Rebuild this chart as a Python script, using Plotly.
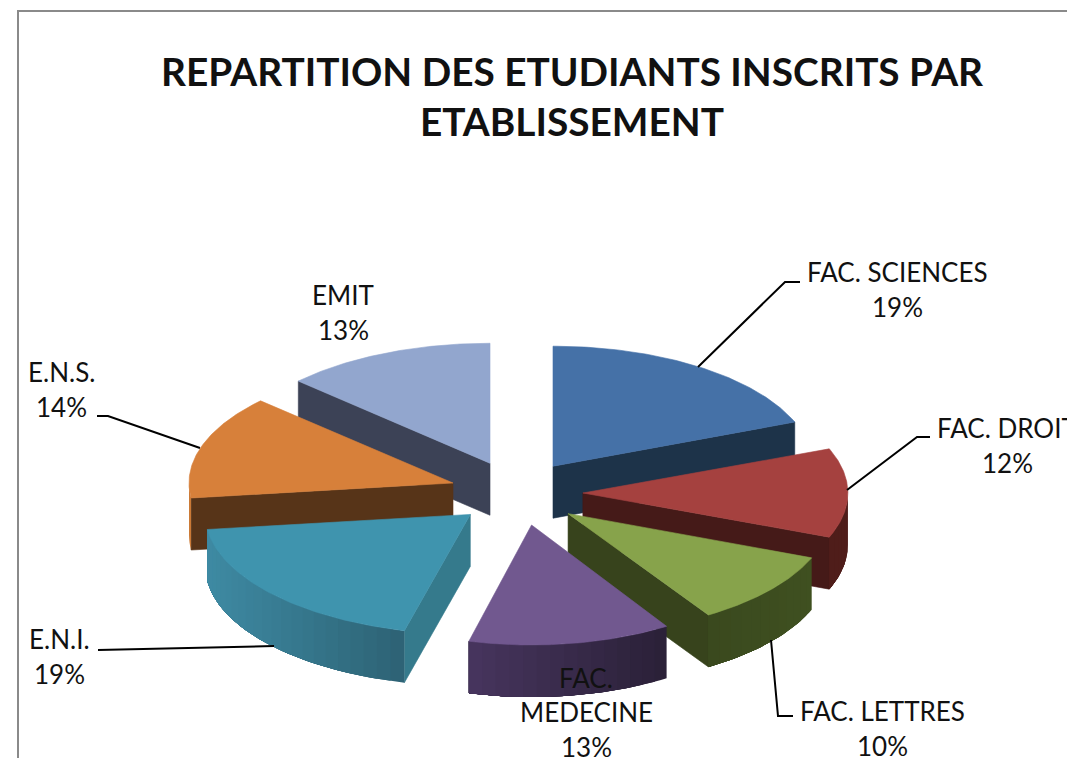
import numpy as np
import plotly.graph_objects as go

# Data
LABELS = ["FAC. SCIENCES", "FAC. DROIT", "FAC. LETTRES", "FAC. MEDECINE", "E.N.I.", "E.N.S.", "EMIT"]
VALUES = [19, 12, 10, 13, 19, 14, 13]
TITLE_LINES = ["REPARTITION DES ETUDIANTS INSCRITS PAR", "ETABLISSEMENT"]

# Styles
TOP = ["#4571a7", "#a5413f", "#87a34b", "#71588f", "#3f94ae", "#d7803a", "#92a6ce"]
CUT = ["#1d3349", "#451a18", "#37431c", "#2b2138", "#357a8c", "#573418", "#3c4256"]
WALL_L = ["#1d3349", "#4f1d1a", "#3a491e", "#47355e", "#3e8aa3", "#cc7a36", "#3c4256"]
WALL_R = ["#1d3349", "#4f1d1a", "#3f5020", "#2a2037", "#2d6274", "#cc7a36", "#3c4256"]
DRAW_ORDER = [0, 6, 5, 1, 2, 4, 3]

# Projection of the pie
CX, CY, BASE_RX, RY, DEPTH = 521, 493, 260, 120, 52
SLICE_RX = [260, 265, 262, 252, 265, 264, 263]
PULL_X = [0.219, 0.238, 0.235, 0.26, 0.26, 0.275, 0.30]
PULL_Y = 0.27

total = sum(VALUES)
edges = np.concatenate([[0], np.cumsum(VALUES)]) * 360.0 / total


def hex2rgb(c):
    return np.array([int(c[i:i + 2], 16) for i in (1, 3, 5)], dtype=float)


def rgb(c):
    return "rgb(%d,%d,%d)" % tuple(int(round(v)) for v in c)


fig = go.Figure()


def poly(xs, ys, color, width=0.6):
    fig.add_trace(go.Scatter(
        x=list(xs), y=list(ys), mode="lines", fill="toself", fillcolor=color,
        line=dict(color=color, width=width), hoverinfo="skip", showlegend=False,
    ))


for i in DRAW_ORDER:
    a0, a1 = edges[i], edges[i + 1]
    mid = np.radians((a0 + a1) / 2)
    ax = CX + PULL_X[i] * BASE_RX * np.sin(mid)
    ay = CY - PULL_Y * RY * np.cos(mid)
    rx = SLICE_RX[i]

    def ell(deg):
        t = np.radians(deg)
        return ax + rx * np.sin(t), ay - RY * np.cos(t)

    # cut faces
    if 0 < a1 < 180:
        ex, ey = ell(a1)
        poly([ax, ex, ex, ax, ax], [ay, ey, ey + DEPTH, ay + DEPTH, ay], CUT[i])
    if 180 < a0 < 360:
        ex, ey = ell(a0)
        poly([ax, ex, ex, ax, ax], [ay, ey, ey + DEPTH, ay + DEPTH, ay], CUT[i])

    # outer wall, visible on the front half; each strip runs under the next one
    w0, w1 = max(a0, 90), min(a1, 270)
    if w1 > w0:
        n = max(int((w1 - w0) / 3), 1)
        steps = np.linspace(w0, w1, n + 1)
        cl, cr = hex2rgb(WALL_L[i]), hex2rgb(WALL_R[i])
        xs_all = ell(steps)[0]
        lo, hi = xs_all.min(), xs_all.max()
        for k in range(n):
            # paint from the far end so overlaps stay hidden
            s0, s1 = steps[k], steps[k + 1]
            ss = np.linspace(s0, w1, max(int((w1 - s0) / 1.5), 2) + 1)
            x, y = ell(ss)
            xm = ell((s0 + s1) / 2)[0]
            f = (xm - lo) / (hi - lo) if hi > lo else 0
            poly(np.concatenate([x, x[::-1], x[:1]]),
                 np.concatenate([y, y[::-1] + DEPTH, y[:1]]),
                 rgb(cl + (cr - cl) * f), width=0)

    # top face
    ss = np.linspace(a0, a1, 80)
    x, y = ell(ss)
    poly(np.concatenate([[ax], x, [ax]]), np.concatenate([[ay], y, [ay]]), TOP[i])

# Label text: one entry per line
LABEL_LINES = {
    0: (897, 272, "FAC. SCIENCES"),
    1: (1007, 428, "FAC. DROIT"),
    2: (882, 711, "FAC. LETTRES"),
    4: (59, 639, "E.N.I."),
    5: (61, 372, "E.N.S."),
    6: (343, 295, "EMIT"),
}
annotations = []
FS = 26


def line(x, y, t):
    annotations.append(dict(x=x, y=y, xref="x", yref="y", text=t, showarrow=False,
                            xanchor="center", yanchor="middle",
                            font=dict(family="Lato", size=FS, color="#111111")))


for i, (x, y0, t) in LABEL_LINES.items():
    line(x, y0, t)
    line(x, y0 + 35, f"{VALUES[i]}%")
line(586, 678, "FAC.")
line(586, 712, "MEDECINE")
line(586, 747, f"{VALUES[3]}%")

LEADERS = [
    "M698,367 L785,282 L800,282",
    "M847,490 L917,437 L930,437",
    "M771,640 L778,716 L793,716",
    "M274,646 L98,650",
    "M200,448 L108,416 L97,416",
]
shapes = [dict(type="path", path=p, xref="x", yref="y", line=dict(color="#000000", width=2), layer="above")
          for p in LEADERS]
shapes.append(dict(type="path", path="M18,758 L18,11 L1067,11", xref="x", yref="y",
                   line=dict(color="#8a8a8a", width=2), layer="above"))

fig.update_layout(
    width=1067, height=758, margin=dict(l=0, r=0, t=0, b=0, pad=0),
    paper_bgcolor="white", plot_bgcolor="white", showlegend=False,
    title=dict(text="<br>".join(TITLE_LINES), x=572 / 1067, xanchor="center",
               y=1 - 72 / 758 + 0.02 - 29 / 758, yanchor="top",
               font=dict(family="Lato", size=38.8, color="#111111", weight="bold")),
    xaxis=dict(range=[0, 1067], visible=False, fixedrange=True),
    yaxis=dict(range=[758, 0], visible=False, fixedrange=True),
    annotations=annotations, shapes=shapes,
)
fig.write_html("out.html", config={"displayModeBar": False},
               post_script="document.body.style.margin='0';document.body.style.overflow='hidden';")
